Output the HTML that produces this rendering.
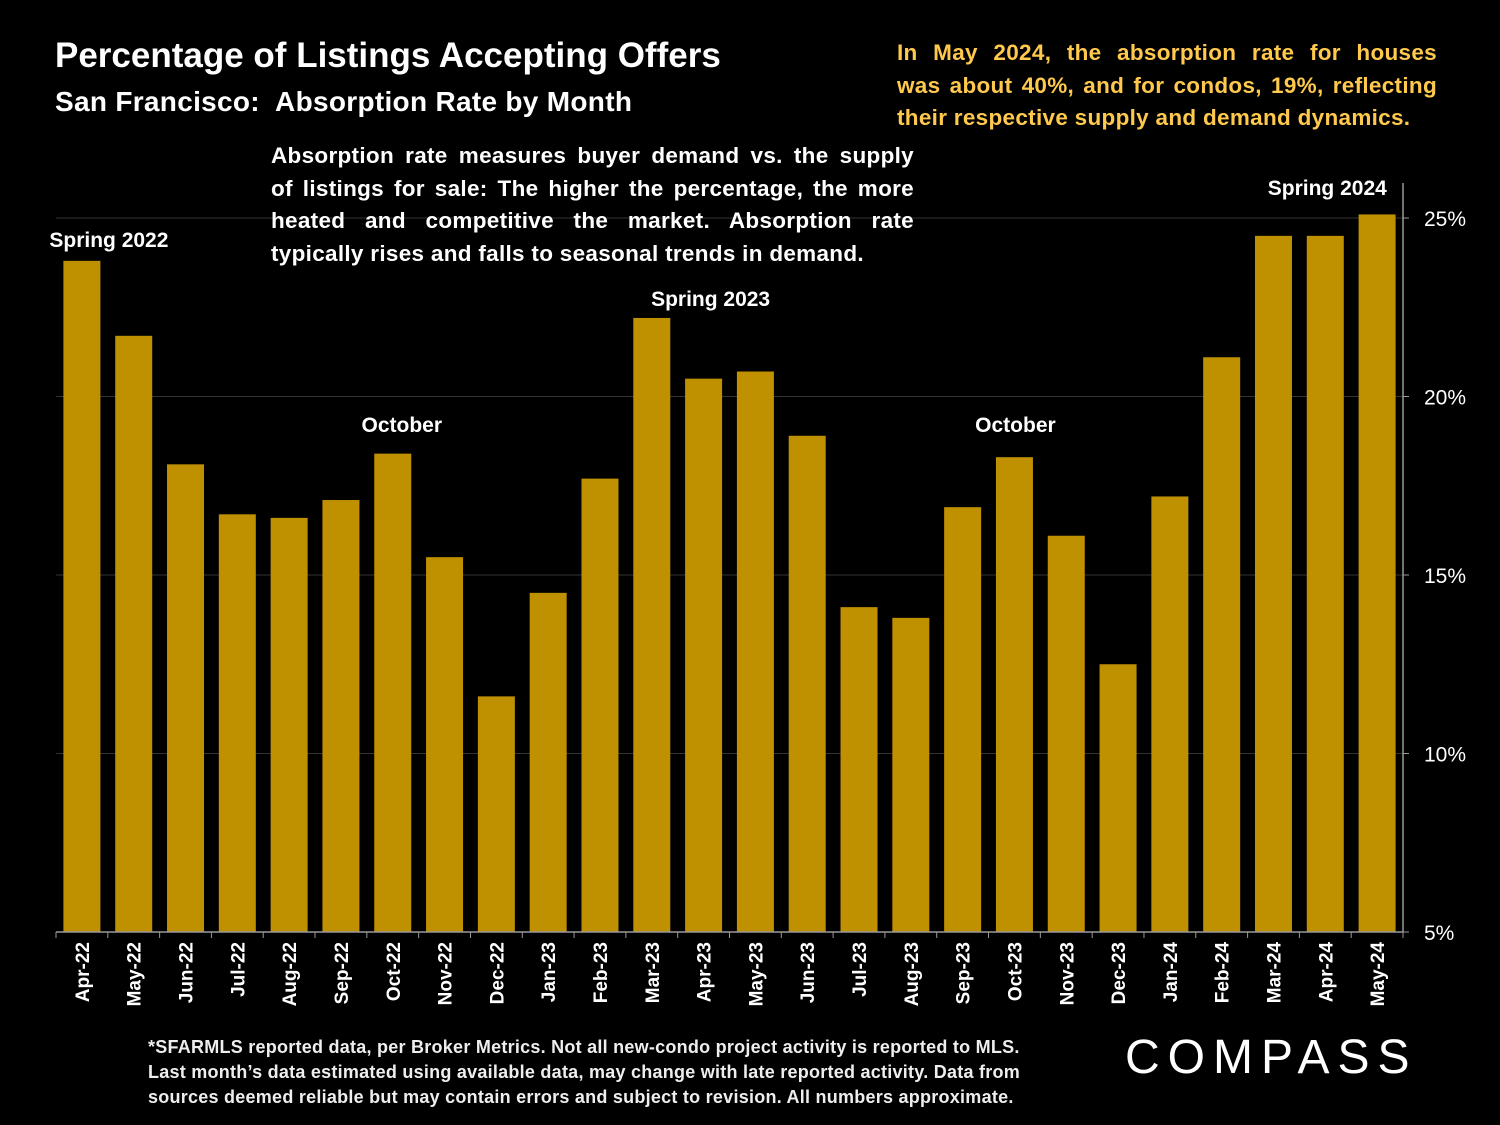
<!DOCTYPE html>
<html><head><meta charset="utf-8"><style>
body{margin:0;background:#000;width:1500px;height:1125px;overflow:hidden;font-family:"Liberation Sans","DejaVu Sans",sans-serif;color:#fff}
.t{position:absolute;margin:0}
.j{text-align:justify;text-align-last:justify}
</style></head><body>
<div class="t" style="left:55px;top:36px;font-size:35px;font-weight:bold;letter-spacing:0px">Percentage of Listings Accepting Offers</div>
<div class="t" style="left:55px;top:86px;font-size:28px;font-weight:bold;letter-spacing:0.3px">San Francisco:&nbsp; Absorption Rate by Month</div>
<div class="t" style="left:897px;top:37px;width:540px;font-size:22.5px;font-weight:bold;color:#FFC94D;line-height:32.5px;letter-spacing:0.3px">
<div class="j">In May 2024, the absorption rate for houses</div>
<div class="j">was about 40%, and for condos, 19%, reflecting</div>
<div>their respective supply and demand dynamics.</div>
</div>
<div class="t" style="left:271px;top:140px;width:643px;font-size:22.5px;font-weight:bold;line-height:32.5px;z-index:2;letter-spacing:0.3px">
<div class="j">Absorption rate measures buyer demand vs. the supply</div>
<div class="j">of listings for sale: The higher the percentage, the more</div>
<div class="j">heated and competitive the market. Absorption rate</div>
<div>typically rises and falls to seasonal trends in demand.</div>
</div>
<div class="t" style="left:148px;top:1035px;font-size:18px;font-weight:bold;line-height:25px;color:#eee;letter-spacing:0.25px">*SFARMLS reported data, per Broker Metrics. Not all new-condo project activity is reported to MLS.<br>Last month’s data estimated using available data, may change with late reported activity. Data from<br>sources deemed reliable but may contain errors and subject to revision. All numbers approximate.</div>
<div class="t" style="left:1125px;top:1030px;font-size:48px;letter-spacing:8px;font-weight:normal">COMPASS</div>
<svg id="chart" width="1500" height="1125" style="position:absolute;left:0;top:0"></svg>
<script>
const categories=["Apr-22","May-22","Jun-22","Jul-22","Aug-22","Sep-22","Oct-22","Nov-22","Dec-22","Jan-23","Feb-23","Mar-23","Apr-23","May-23","Jun-23","Jul-23","Aug-23","Sep-23","Oct-23","Nov-23","Dec-23","Jan-24","Feb-24","Mar-24","Apr-24","May-24"];
const values=[23.8,21.7,18.1,16.7,16.6,17.1,18.4,15.5,11.6,14.5,17.7,22.2,20.5,20.7,18.9,14.1,13.8,16.9,18.3,16.1,12.5,17.2,21.1,24.5,24.5,25.1];
const ticks=[5,10,15,20,25];
const tickLabels=["5%","10%","15%","20%","25%"];
const annotations=[{i:0,text:"Spring 2022",ty:247,dx:27},{i:6,text:"October",ty:432,dx:9},{i:12,text:"Spring 2023",ty:306,dx:7},{i:18,text:"October",ty:432,dx:1},{i:24,text:"Spring 2024",ty:195,dx:2}];
const NS="http://www.w3.org/2000/svg";
const svg=document.getElementById('chart');
const y=v=>932-(v-5)*(932-218)/20;
const x0=56,step=(1403-56)/categories.length;
const xc=i=>x0+step*(i+0.5);
function mk(t,a){const e=document.createElementNS(NS,t);for(const k in a)e.setAttribute(k,a[k]);svg.appendChild(e);return e;}
ticks.forEach((t,k)=>{
 if(t>5){const g=mk('line',{x1:56,x2:1403,y1:y(t),y2:y(t),stroke:'#333','stroke-width':1});
 
 }
 const tk=mk('line',{x1:1403,x2:1409,y1:y(t),y2:y(t),stroke:'#999'});
 
 
 const l=mk('text',{x:1424,y:y(t)+8,fill:'#fff','font-size':21,'font-family':'Liberation Sans, sans-serif'});
 l.textContent=tickLabels[k];
 
 
});
values.forEach((v,i)=>{
 const w=37;
 const b=mk('rect',{x:xc(i)-w/2,y:y(v),width:w,height:932-y(v),fill:'#BF9000'});
 
 
 const cx=xc(i),ty=942;
 const l=mk('text',{x:cx+7,y:ty,fill:'#fff','font-size':19,'font-weight':'bold','text-anchor':'end','transform':`rotate(-90 ${cx+7} ${ty})`,'font-family':'Liberation Sans, sans-serif'});
 l.textContent=categories[i];
 
 
});
for(let i=0;i<=categories.length;i++){const t=mk('line',{x1:x0+step*i,x2:x0+step*i,y1:932,y2:938,stroke:'#999'});
 
 }
const ax=mk('line',{x1:56,x2:1403,y1:932,y2:932,stroke:'#999','stroke-width':1.5});


const ay=mk('line',{x1:1403,x2:1403,y1:183,y2:932,stroke:'#999','stroke-width':1.5});


annotations.forEach(a=>{
 const t=mk('text',{x:xc(a.i)+a.dx,y:a.ty,fill:'#fff','font-size':21,'font-weight':'bold','text-anchor':'middle','font-family':'Liberation Sans, sans-serif'});
 t.textContent=a.text;
 
 
});
</script>
</body></html>
